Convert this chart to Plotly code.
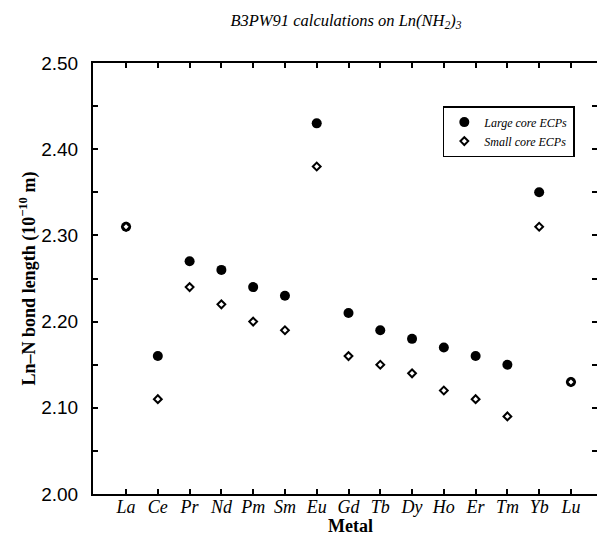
import plotly.graph_objects as go

metals = ["La", "Ce", "Pr", "Nd", "Pm", "Sm", "Eu", "Gd", "Tb", "Dy", "Ho", "Er", "Tm", "Yb", "Lu"]
large_core = [2.31, 2.16, 2.27, 2.26, 2.24, 2.23, 2.43, 2.21, 2.19, 2.18, 2.17, 2.16, 2.15, 2.35, 2.13]
small_core = [2.31, 2.11, 2.24, 2.22, 2.20, 2.19, 2.38, 2.16, 2.15, 2.14, 2.12, 2.11, 2.09, 2.31, 2.13]
y_ticks = [2.00, 2.10, 2.20, 2.30, 2.40, 2.50]

serif = "Liberation Serif, Times New Roman, serif"
sans = "Liberation Sans, Arial, sans-serif"

fig = go.Figure()
fig.add_trace(go.Scatter(
    x=metals, y=large_core, mode="markers", name="<i>Large core ECPs</i>",
    marker=dict(symbol="circle", size=10, color="black", line=dict(width=0))
))
fig.add_trace(go.Scatter(
    x=metals, y=small_core, mode="markers", name="<i>Small core ECPs</i>",
    marker=dict(symbol="diamond", size=6, color="white", line=dict(width=2, color="black"))
))

fig.update_layout(
    width=597, height=538,
    margin=dict(l=93, r=0, t=63, b=44),
    paper_bgcolor="white", plot_bgcolor="white",
    showlegend=True,
    title=dict(
        text="<i>B3PW91 calculations on Ln(NH<sub>2</sub>)<sub>3</sub></i>",
        x=346/597, xanchor="center", y=1-20/538, yanchor="middle",
        font=dict(family=serif, size=16.5, color="black"),
    ),
    legend=dict(
        x=0.956, y=0.900, xanchor="right", yanchor="top",
        bgcolor="white", bordercolor="black", borderwidth=1.5,
        font=dict(family=serif, size=12, color="black"),
        tracegroupgap=0, itemwidth=30,
    ),
    xaxis=dict(
        type="category", categoryorder="array", categoryarray=metals,
        range=[-1.04, 14.82], automargin=False,
        tickvals=metals, ticktext=[f"<i>{m}</i>" for m in metals],
        showline=True, linecolor="black", linewidth=2, mirror="ticks",
        ticks="inside", ticklen=5, tickwidth=1.5, tickcolor="black",
        showgrid=False, zeroline=False,
        tickfont=dict(family=serif, size=18, color="black"),
        ticklabelstandoff=-5,
    ),
    yaxis=dict(
        range=[2.0, 2.5], automargin=False,
        tickvals=y_ticks, ticktext=[f"{v:.2f}" for v in y_ticks],
        showline=True, linecolor="black", linewidth=2, mirror="ticks",
        ticks="inside", ticklen=5, tickwidth=1.5, tickcolor="black",
        minor=dict(dtick=0.05, tick0=2.0, ticks="inside", ticklen=5, tickwidth=1.5, tickcolor="black"),
        showgrid=False, zeroline=False,
        tickfont=dict(family=sans, size=19, color="black"),
        ticklabelstandoff=9,
        title=dict(text="<b>Ln\u2013N bond length (10<sup>\u221210</sup> m)</b>",
                   font=dict(family=serif, size=18, color="black"), standoff=1),
    ),
)

fig.add_annotation(
    text="<b>Metal</b>", xref="paper", yref="paper", x=(350 - 93) / 504, y=0,
    xanchor="center", yanchor="middle", yshift=-32, showarrow=False,
    font=dict(family=serif, size=18, color="black"),
)

fig.write_html("out.html", config={"displayModeBar": False},
               post_script="document.body.style.margin='0';")
